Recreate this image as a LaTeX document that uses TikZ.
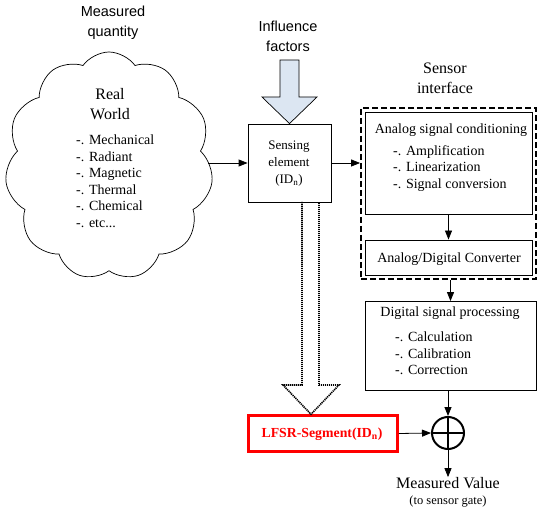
\documentclass[tikz,border=0pt]{standalone}
\usepackage{fontspec}
\setmainfont{Liberation Serif}
\setsansfont{Liberation Sans}
\usetikzlibrary{shapes.symbols,arrows.meta}
\begin{document}
\begin{tikzpicture}[x=1pt,y=-1pt,
  big/.style={font=\fontsize{16}{20}\selectfont, align=center, inner sep=0},
  bigsans/.style={font=\sffamily\fontsize{14.5}{20}\selectfont, align=center, inner sep=0},
  small/.style={font=\fontsize{14}{16.5}\selectfont, inner sep=0},
  listtxt/.style={font=\fontsize{14}{16.5}\selectfont, align=left, inner sep=0, anchor=north west},
  box/.style={draw, line width=0.8pt},
  arr/.style={-{Triangle[length=9pt,width=7pt]}, line width=0.8pt},
]
\useasboundingbox (0,0) rectangle (538,513);

% Cloud
\node[bigsans] (mq) at (113,23) {Measured\\quantity};
\node[cloud, draw, line width=0.7pt, cloud puffs=11, cloud puff arc=110, aspect=0.91,
      minimum width=208pt, minimum height=228pt, inner sep=0] (world) at (109,166) {};
\node[big] (rw) at (110,104) {Real\\World};
\node[listtxt] (rwl) at (76,135) {-. Mechanical\\-. Radiant\\-. Magnetic\\-. Thermal\\-. Chemical\\-. etc...};

% Influence factors
\node[bigsans] (inf) at (288,36) {Influence\\factors};
\node[box, minimum width=83pt, minimum height=78pt, inner sep=0] (sens) at (289.5,163) {};
\node[small, align=center, font=\fontsize{13}{17}\selectfont] (senst) at (289,164) {Sensing\\element\\(ID\textsubscript{n})};
\draw[line width=0.7pt, fill={rgb,255:red,220;green,230;blue,242}]
  (280,60) -- (299,60) -- (299,97) -- (317,97) -- (sens.north) -- (262,97) -- (280,97) -- cycle;

\coordinate (cw) at (208,163);
\draw[arr] (cw) -- (sens.west);

% Sensor interface
\node[big] (si) at (445,78) {Sensor\\interface};
\node[draw, line width=1.8pt, dash pattern=on 6pt off 3pt, minimum width=175pt, minimum height=171pt, inner sep=0] (dash) at (448.5,193.5) {};
\node[box, minimum width=167pt, minimum height=102pt, inner sep=0] (asc) at (448.5,163) {};
\node[small] (asct) at (451,130) {Analog signal conditioning};
\node[listtxt] (ascl) at (393,145) {-. Amplification\\-. Linearization\\-. Signal conversion};
\draw[arr] (sens.east) -- (dash.west |- sens.east);

\node[box, minimum width=167pt, minimum height=35pt, inner sep=0] (adc) at (448.5,257.5) {};
\node[small] (adct) at (449,259) {Analog/Digital Converter};
\draw[arr] (asc.south) -- (adc.north);

\node[box, minimum width=171pt, minimum height=89pt, inner sep=0] (dsp) at (450.5,346) {};
\node[small] (dspt) at (450,313) {Digital signal processing};
\node[listtxt] (dspl) at (395,332) {-. Calculation\\-. Calibration\\-. Correction};
\draw[arr] (dash.south -| dsp.north) -- (dsp.north);

% XOR
\node[circle, draw, line width=2pt, minimum size=32pt, inner sep=0] (xor) at (448,433) {};
\draw[line width=2pt] (xor.north) -- (xor.south) (xor.west) -- (xor.east);
\draw[arr] (dsp.south -| xor.north) -- (xor.north);

% LFSR
\node[draw=red, line width=2.5pt, minimum width=149pt, minimum height=36pt, inner sep=0] (lfsr) at (323,433.5) {};
\node[small, text=red, font=\fontsize{13.8}{15}\selectfont\bfseries] (lfsrt) at (322,434) {LFSR-Segment(ID\textsubscript{n})};
\draw[arr] (lfsr.east) -- (xor.west);

% Hollow dotted arrow
\draw[line width=1.6pt, dash pattern=on 1.2pt off 0.8pt]
  (302,202) -- (302,385) -- (283,385) -- (lfsr.north -| 311,0) -- (339,385) -- (319,385) -- (319,202);

% Output
\node[big] (mv) at (448,483) {Measured Value};
\node[small, font=\fontsize{12.5}{13}\selectfont] (gate) at (448,502) {(to sensor gate)};
\draw[arr] (xor.south) -- (mv.north);
\end{tikzpicture}
\end{document}
